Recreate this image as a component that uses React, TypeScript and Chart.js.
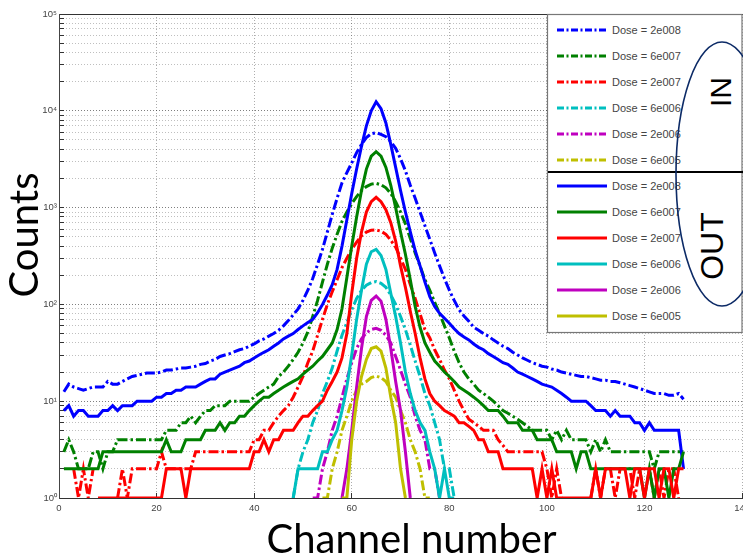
import React, { useEffect, useRef } from "react";
import { Chart, registerables } from "chart.js";

Chart.register(...registerables);

// ---------- axis / labels ----------
const X_TICKS = [0, 20, 40, 60, 80, 100, 120, 140];
const Y_DECADES = [1, 10, 100, 1000, 10000, 100000];
const Y_TICK_LABELS = ["10\u2070", "10\u00b9", "10\u00b2", "10\u00b3", "10\u2074", "10\u2075"];
const DOSES = ["2e008", "6e007", "2e007", "6e006", "2e006", "6e005"];
const COLORS = ["#0000ff", "#008000", "#ff0000", "#00bfbf", "#bf00bf", "#bfbf00"];
const X_TITLE = "Channel number";
const Y_TITLE = "Counts";

// ---------- IN series (dash-dot). Each array starts at its *_START channel ----------
const IN_2E8_START = 1;
const IN_2E8 = [
  12.5, 15, 14, 13.5, 13, 13.5, 14, 14, 14, 16,
  15, 15, 16, 17, 18, 18.5, 19, 19.5, 19.5, 19.5,
  20, 21, 21, 21.5, 22, 22, 22.5, 23, 24, 24.5,
  26, 27, 29, 30, 31, 32.5, 34, 35, 37, 39,
  42, 44, 47, 50, 54, 60, 68, 78, 90, 110,
  140, 185, 260, 370, 560, 850, 1250, 1800, 2300, 2900,
  3700, 4500, 5300, 5800, 5940, 5700, 5400, 4800, 4100, 3200,
  2400, 1700, 1250, 900, 650, 470, 340, 250, 185, 140,
  110, 88, 76, 67, 58, 54, 50, 47, 43, 40,
  37, 35, 32, 30, 28, 26.5, 25, 24, 23, 22.5,
  21.5, 21, 20, 19.5, 19, 18.5, 18, 18, 17.5, 17,
  16.5, 16.5, 16, 16, 15.5, 15, 14.5, 14, 13.5, 13,
  12.5, 12, 12, 12, 11.5, 11.5, 12, 10.5,
];
const IN_6E7_START = 1;
const IN_6E7 = [
  3, 4, 3, 2, 2, 2, 3, 3, 2, 3,
  3, 4, 4, 4, 4, 4, 4, 4, 4, 4,
  4, 5, 5, 5, 6, 6, 7, 6, 7, 8,
  8, 9, 9, 9, 10, 10, 10, 10, 10, 11,
  12, 13, 14, 15, 18, 20, 23, 27, 32, 40,
  52, 75, 110, 170, 260, 380, 530, 720, 900, 1100,
  1300, 1500, 1650, 1750, 1780, 1720, 1600, 1400, 1150, 900,
  680, 480, 340, 250, 180, 140, 105, 80, 60, 45,
  33, 25, 20, 17, 15, 13, 12, 11, 10, 9,
  8, 7.5, 7, 6.5, 6, 5.5, 5, 5, 5, 5,
  4, 5, 4, 5, 4, 4, 4, 4, 3, 4,
  3, 4, 3, 3, 3, 3, 3, 3, 3, 3,
  3, 2, 3, 3, 3, 3, 3, 3,
];
const IN_2E7_START = 3;
const IN_2E7 = [
  2, 1, 2, 1, 2, null, null, null, null, 1,
  2, 1, 2, 2, 2, 2, 2, 2, 3, 2,
  2, 2, 2, 2, 2, 3, 3, 3, 3, 3,
  3, 3, 3, 3, 3, 3, 3, 4, 4, 5,
  5, 6, 7, 8, 9, 11, 14, 18, 25, 33,
  48, 70, 100, 135, 180, 240, 300, 370, 440, 510,
  560, 585, 587, 570, 530, 460, 390, 300, 230, 160,
  115, 80, 55, 45, 34, 27, 21, 17, 13, 10,
  8, 6.5, 6, 5.5, 5, 5, 5, 4, 3.5, 3,
  3, 3, 3, 3, 3, 3, 3, 2, 1, 2,
  1, null, null, null, null, null, 1, 2, 1, 2,
  2, 1, 2, 2, 2, 1, 2, 2, 2, 1,
  2, 1, 2, 2, 1,
];
const IN_6E6_START = 48;
const IN_6E6 = [1, 2, 3, 4, 6, 8, 12, 16, 22, 33, 48, 65, 88, 115, 140, 158, 168, 172, 165, 150, 125, 100, 75, 55, 38, 26, 18, 12, 9, 6, 4, 2, 2, 1];
const IN_2E6_START = 52;
const IN_2E6 = [1, 1, 2, 3, 5, 7, 11, 17, 25, 35, 44, 51, 55, 56.6, 54, 48, 40, 29, 21, 15, 11, 7, 5, 4, 2, 2, 1];
const IN_6E5_START = 54;
const IN_6E5 = [1, 1, 2, 3, 5, 7, 10, 13, 15, 16, 17.5, 18.2, 17.5, 16, 13, 11, 8, 6, 4, 3, 2, 1, 1];

// ---------- OUT series (solid) ----------
const OUT_2E8_START = 1;
const OUT_2E8 = [
  8, 9, 7, 8, 8, 7, 7, 7, 8, 8,
  9, 8, 9, 9, 9, 10, 10, 10, 10, 11,
  11, 12, 12, 13, 13, 14, 14, 14, 15, 16,
  17, 17, 19, 20, 21, 22, 23, 25, 26, 28,
  30, 32, 34, 37, 40, 44, 47, 50, 55, 60,
  65, 70, 82, 100, 125, 160, 230, 400, 750, 1400,
  2500, 4300, 7000, 10000, 12400, 10500, 7500, 4500, 2600, 1500,
  900, 560, 360, 250, 170, 120, 95, 81, 72, 64,
  56, 50, 46, 43, 39, 36, 34, 31, 29, 27,
  25, 24, 22, 20, 19, 18, 17, 16, 15, 14.5,
  14, 13, 12, 11, 10, 10, 10, 10, 9, 8,
  8, 8, 7, 8, 7, 7, 7, 6, 6, 5,
  6, 5, 5, 5, 5, 5, 5, 2,
];
const OUT_6E7_START = 1;
const OUT_6E7 = [
  2, 2, 2, 2, 2, 2, 2, 2, 3, 3,
  3, 3, 3, 3, 3, 3, 3, 3, 3, 3,
  3, 4, 3, 3, 3, 4, 4, 4, 4, 5,
  5, 5, 6, 5, 6, 6, 7, 7, 8, 9,
  10, 11, 11, 12, 13, 14, 15, 16, 17, 19,
  21, 23, 26, 29, 34, 40, 55, 90, 190, 400,
  800, 1500, 2500, 3400, 3780, 3400, 2600, 1700, 1000, 560,
  330, 180, 95, 58, 40, 32, 26, 23, 20, 18,
  16, 14, 13, 12, 11, 10, 9, 8, 8, 8,
  7, 6, 6, 6, 5, 5, 5, 4, 4, 4,
  4, 3, 3, 3, 3, 2, 3, 3, 2, 2,
  2, 2, 2, 2, 2, 2, 2, 2, 2, 1,
  2, 1, 2, 2, 1, 2, 2, 3,
];
const OUT_2E7_START = 8;
const OUT_2E7 = [
  1, 1, 1,
  1, 1, 1, 1, 1, 1, 1, 1, 1, 1,
  1, 2, 2, 2, 2, 1, 2, 2, 2, 2,
  2, 2, 2, 2, 2, 2, 2, 2, 2, 3,
  3, 4, 3, 4, 4, 5, 5, 5, 6, 7,
  7, 8, 9, 10, 13, 16, 20, 28, 50, 130,
  300, 560, 900, 1150, 1277, 1150, 950, 700, 450, 250,
  150, 85, 50, 28, 17, 12, 10, 9, 8, 7.5,
  7, 6, 6, 5.5, 5, 4, 4, 3, 3, 3,
  2, 2, 2, 2, 2, 2, 2, 1, 2, 1,
  2, 1, 1, 1, 1, 1, 1, 1, 1, 2,
  1, 2, 2, 2, 2, 2, 1, 2, 2, 1,
  2, 2, 1, 2, 2, 1, 2, 2,
];
const OUT_6E6_START = 48;
const OUT_6E6 = [1, 2, 2, 2, 2, 2, 3, 3, 4, 5, 8, 14, 30, 70, 140, 260, 350, 371, 320, 230, 130, 75, 40, 20, 12, 8, 6, 5, 3, 2, 1, 2, 1, 1];
const OUT_2E6_START = 58;
const OUT_2E6 = [1, 2, 5, 14, 35, 75, 110, 122, 108, 70, 35, 16, 8, 3, 1];
const OUT_6E5_START = 58;
const OUT_6E5 = [1, 1, 4, 10, 18, 27, 35, 36.5, 33, 22, 11, 6, 2, 1];

const IN_SERIES: [number, (number | null)[]][] = [
  [IN_2E8_START, IN_2E8], [IN_6E7_START, IN_6E7], [IN_2E7_START, IN_2E7],
  [IN_6E6_START, IN_6E6], [IN_2E6_START, IN_2E6], [IN_6E5_START, IN_6E5],
];
const OUT_SERIES: [number, (number | null)[]][] = [
  [OUT_2E8_START, OUT_2E8], [OUT_6E7_START, OUT_6E7], [OUT_2E7_START, OUT_2E7],
  [OUT_6E6_START, OUT_6E6], [OUT_2E6_START, OUT_2E6], [OUT_6E5_START, OUT_6E5],
];

const DASH_DOT = [10, 3, 2.5, 3];
const LEGEND_DASH = [7, 2.5, 2, 2.5];
const TICK_FONT = { family: "'Liberation Sans', Arial, sans-serif", size: 9.5 };

export default function App() {
  const canvasRef = useRef<HTMLCanvasElement | null>(null);

  useEffect(() => {
    const canvas = canvasRef.current;
    if (!canvas) return;

    const datasets: any[] = [];
    const all = [
      ...IN_SERIES.map((s, i) => ({ s, i, dashed: true })),
      ...OUT_SERIES.map((s, i) => ({ s, i, dashed: false })),
    ];
    all.forEach(({ s, i, dashed }, k) => {
      const [start, vals] = s;
      datasets.push({
        label: (dashed ? "IN " : "OUT ") + "Dose = " + DOSES[i],
        data: vals.map((v, j) => ({ x: start + j, y: v })),
        borderColor: COLORS[i],
        backgroundColor: COLORS[i],
        borderWidth: 3,
        borderDash: dashed ? DASH_DOT : [],
        pointRadius: 0,
        tension: 0,
        fill: false,
        spanGaps: false,
        clip: 0,
        order: all.length - k,
      });
    });

    const yGrid: number[] = [];
    for (let d = 0; d < Y_DECADES.length - 1; d++) {
      for (let m = 1; m <= 9; m++) yGrid.push(Y_DECADES[d] * m);
    }
    yGrid.push(Y_DECADES[Y_DECADES.length - 1]);

    const chart = new Chart(canvas, {
      type: "line",
      data: { datasets },
      options: {
        responsive: false,
        animation: false,
        devicePixelRatio: 1,
        layout: { padding: { left: 0, right: 17, top: 14, bottom: 0 } },
        plugins: { legend: { display: false }, tooltip: { enabled: false } },
        scales: {
          x: {
            type: "linear",
            position: "bottom",
            min: 0,
            max: 140,
            afterBuildTicks: (s: any) => {
              s.ticks = X_TICKS.map((v) => ({ value: v }));
            },
            afterFit: (s: any) => {
              s.height = 61;
            },
            ticks: {
              autoSkip: false,
              maxRotation: 0,
              font: TICK_FONT,
              color: "#444",
              padding: 10,
              callback: (v: any) => String(v),
            },
            grid: {
              color: "rgba(0,0,0,0.32)",
              lineWidth: 1,
              drawTicks: true,
              tickLength: -5,
              tickColor: "#333",
              tickWidth: 1,
            },
            border: { display: true, color: "#333", width: 1, dash: [1, 2] },
          },
          xTop: {
            type: "linear",
            position: "top",
            min: 0,
            max: 140,
            ticks: { display: false },
            grid: { drawOnChartArea: false, drawTicks: false },
            border: { display: true, color: "#333", width: 1 },
            afterFit: (s: any) => {
              s.height = 0;
            },
          },
          y: {
            type: "logarithmic",
            min: 1,
            max: 100000,
            afterBuildTicks: (s: any) => {
              s.ticks = yGrid.map((v) => ({ value: v }));
            },
            afterFit: (s: any) => {
              s.width = 59;
            },
            ticks: {
              autoSkip: false,
              font: TICK_FONT,
              color: "#444",
              padding: 7,
              callback: (v: any) => {
                const i = Y_DECADES.indexOf(Number(v));
                return i >= 0 ? Y_TICK_LABELS[i] : "";
              },
            },
            grid: {
              color: (c: any) =>
                c.tick && Y_DECADES.indexOf(c.tick.value) >= 0 ? "rgba(0,0,0,0.5)" : "rgba(0,0,0,0.25)",
              lineWidth: 1,
              drawTicks: true,
              tickLength: -5,
              tickColor: "#333",
              tickWidth: 1,
            },
            border: { display: true, color: "#444", width: 1, dash: [1, 2] },
          },
        },
      },
    });
    return () => chart.destroy();
  }, []);

  const legendFont = "'Liberation Sans', Arial, sans-serif";
  const rowsIn = DOSES.map((d, i) => ({ d, i, y: 30 + i * 26, dashed: true }));
  const rowsOut = DOSES.map((d, i) => ({ d, i, y: 186 + i * 26, dashed: false }));

  return (
    <div style={{ position: "relative", width: 743, height: 559, overflow: "hidden", background: "#fff" }}>
      <style>{`body{margin:0;background:#fff}`}</style>
      <canvas ref={canvasRef} width={760} height={559} style={{ display: "block", width: 760, height: 559 }} />
      <svg width={743} height={559} style={{ position: "absolute", left: 0, top: 0 }}>
        {/* legend box */}
        <rect x={547.5} y={14.5} width={194.5} height={318} fill="#fff" stroke="#777" strokeWidth={1.2} />
        {[...rowsIn, ...rowsOut].map((r) => (
          <g key={(r.dashed ? "in" : "out") + r.i}>
            <line
              x1={557}
              x2={607}
              y1={r.y}
              y2={r.y}
              stroke={COLORS[r.i]}
              strokeWidth={2.8}
              strokeDasharray={r.dashed ? LEGEND_DASH.join(" ") : undefined}
            />
            <text x={612} y={r.y + 4} fontFamily={legendFont} fontSize={11} fill="#444">
              {"Dose = " + r.d}
            </text>
          </g>
        ))}
        <line x1={548} x2={743} y1={172} y2={172} stroke="#000" strokeWidth={2} />
        <ellipse cx={722} cy={174} rx={46} ry={132} fill="none" stroke="#0c2a66" strokeWidth={1.6} />
        <text
          x={731}
          y={92}
          transform="rotate(-90 731 92)"
          textAnchor="middle"
          fontFamily={legendFont}
          fontSize={30}
          fill="#000"
        >
          IN
        </text>
        <text
          x={722.5}
          y={246}
          transform="rotate(-90 722.5 246)"
          textAnchor="middle"
          fontFamily={legendFont}
          fontSize={32}
          fill="#000"
        >
          OUT
        </text>
        {/* axis titles */}
        <text
          x={38}
          y={235}
          transform="rotate(-90 38 235)"
          textAnchor="middle"
          fontFamily="Lato, 'Open Sans', sans-serif"
          fontSize={40}
          fill="#000"
        >
          {Y_TITLE}
        </text>
        <text x={411.5} y={553} textAnchor="middle" fontFamily="Lato, 'Open Sans', sans-serif" fontSize={40} fill="#000">
          {X_TITLE}
        </text>
      </svg>
    </div>
  );
}
